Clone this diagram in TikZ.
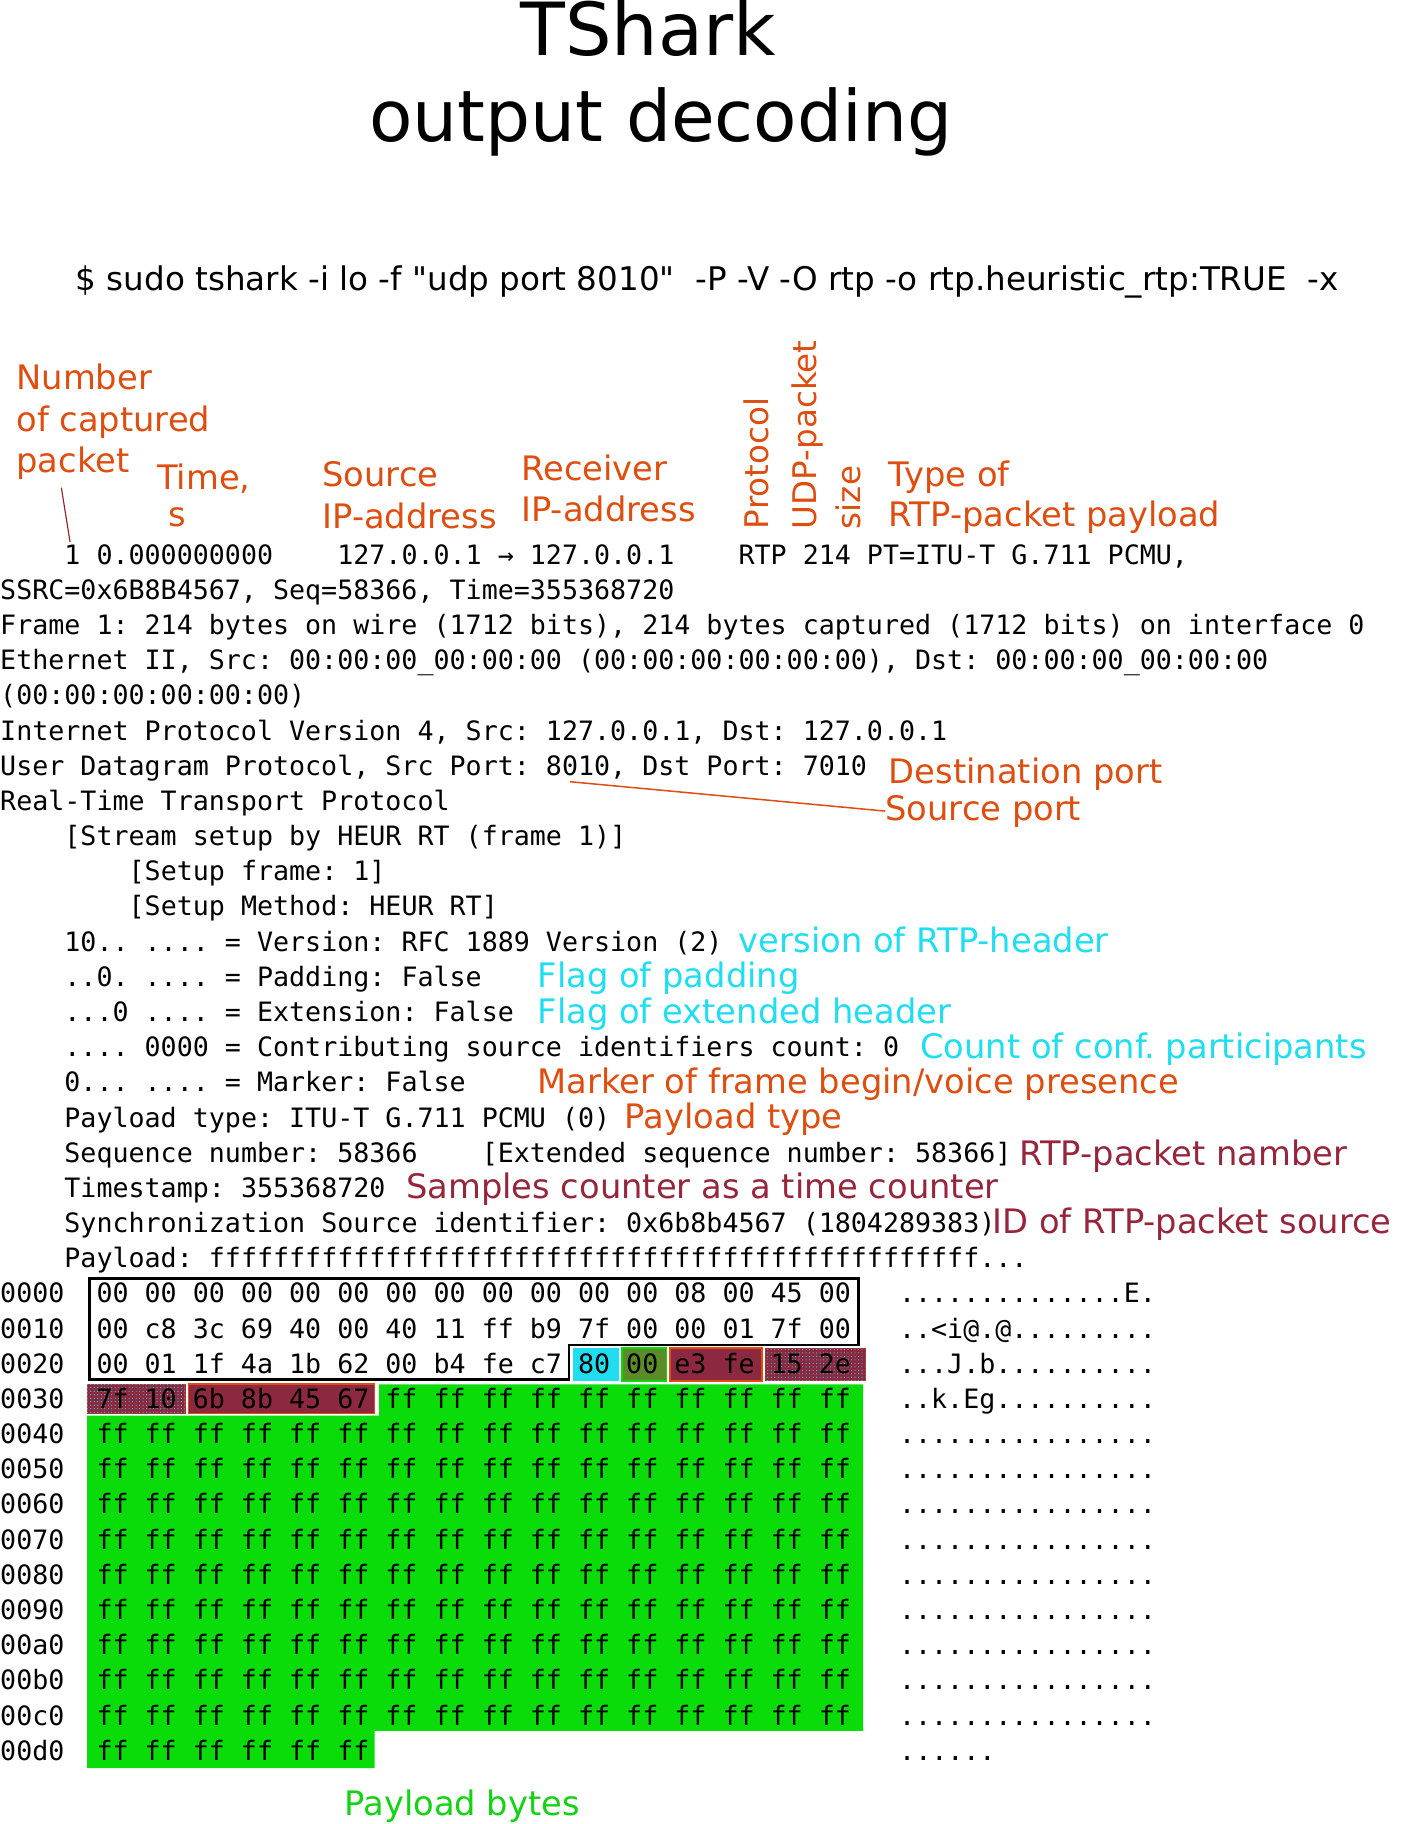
\documentclass[tikz,border=0pt]{standalone}
\usepackage{fontspec}
\setmonofont{DejaVu Sans Mono}
\newfontfamily\sansfam{DejaVu Sans}
\usetikzlibrary{patterns}
\frenchspacing

\definecolor{noteorange}{RGB}{222,78,16}
\definecolor{notecyan}{RGB}{32,222,240}
\definecolor{notemaroon}{RGB}{150,38,60}
\definecolor{notegreen}{RGB}{20,210,20}
\definecolor{bytegreen}{RGB}{10,220,10}
\definecolor{bytemaroon}{RGB}{140,40,64}
\definecolor{byteolive}{RGB}{90,140,40}
\definecolor{tickred}{RGB}{140,40,40}

\newcommand{\titletext}{\sansfam\fontsize{63}{70}\selectfont}
\newcommand{\subtitletext}{\sansfam\fontsize{61}{70}\selectfont}
\newcommand{\cmdtext}{\sansfam\fontsize{28}{34}\selectfont}
\newcommand{\notetext}{\sansfam\fontsize{29}{34}\selectfont}
\newcommand{\sidetext}{\sansfam\fontsize{28}{34}\selectfont}
\newcommand{\dumptext}{\ttfamily\frenchspacing\fontsize{22.92}{27}\selectfont}
\newcommand{\rowy}[1]{485+30.24*#1}

\tikzset{
  title/.style={anchor=base, inner sep=0pt, font=\titletext},
  cmdline/.style={anchor=base west, inner sep=0pt, font=\cmdtext},
  note/.style={anchor=base west, inner sep=0pt, font=\notetext},
  sidenote/.style={anchor=base west, inner sep=0pt, rotate=90, font=\sidetext},
  dump/.style={anchor=base west, inner sep=0pt, font=\dumptext},
  pointer/.style={draw=noteorange, line width=1.3pt},
  tick/.style={draw=tickred, line width=1pt},
  field/.style={fill=bytemaroon, draw=noteorange, line width=1.5pt},
  stamp/.style={fill=bytemaroon, draw=bytemaroon!70!noteorange, line width=1pt,
    postaction={pattern=dots, pattern color=notecyan}}
}

\begin{document}
\begin{tikzpicture}[x=1pt, y=-1pt]
  \useasboundingbox[fill=white] (0,0) rectangle (1204,1568);

  % heading
  \node[title] (ttlone) at (557,48) {TShark};
  \node[title, font=\subtitletext] (ttltwo) at (568,122) {output decoding};
  \node[cmdline] (cmd) at (65,250) {\$ sudo tshark -i lo -f "udp port 8010"~~-P -V -O rtp -o rtp.heuristic\_rtp:TRUE~~-x};

  % column captions
  \node[note, text=noteorange] (num) at (14,335) {Number};
  \node[note, text=noteorange] (numof) at (14,371) {of captured};
  \node[note, text=noteorange] (pkt) at (14,406) {packet};
  \node[note, text=noteorange] (time) at (135,421) {Time,};
  \node[note, text=noteorange] (times) at (145,453) {s};
  \node[note, text=noteorange] (srcip) at (277,418) {Source};
  \node[note, text=noteorange] (srcipb) at (277,454) {IP-address};
  \node[note, text=noteorange] (dstip) at (448,413) {Receiver};
  \node[note, text=noteorange] (dstipb) at (448,448) {IP-address};
  \node[sidenote, text=noteorange] (proto) at (661,455) {Protocol};
  \node[sidenote, text=noteorange] (udpsize) at (702,455) {UDP-packet};
  \node[sidenote, text=noteorange] (udpsizeb) at (740,455) {size};
  \node[note, text=noteorange] (ptype) at (764,418) {Type of};
  \node[note, text=noteorange] (ptypeb) at (764,453) {RTP-packet payload};

  % marked bytes of the hex dump
  \draw[line width=2pt] (77,1099) -- (738,1099) -- (738,1156) -- (489,1156)
    -- (489,1186) -- (77,1186) -- cycle;
  \fill[bytegreen] (326,1190) -- (742,1190) -- (742,1488) -- (322,1488)
    -- (322,1520) -- (75,1520) -- (75,1217) -- (326,1217) -- cycle;
  \fill[notecyan] (493,1159) rectangle (532,1187);
  \filldraw[fill=byteolive, draw=bytegreen, line width=1.5pt] (535,1159) rectangle (573,1187);
  \path[field] (576,1159) rectangle (655,1187);
  \path[stamp] (658,1159) rectangle (744,1187);
  \path[stamp] (75,1190) rectangle (159,1215);
  \path[field] (162,1190) rectangle (322,1215);

  % decoded packet
  \node[dump] (summary) at (55.2,{\rowy{0}}) {1 0.000000000~~~~127.0.0.1 → 127.0.0.1~~~~RTP 214 PT=ITU-T G.711 PCMU,};
  \node[dump] (ssrcline) at (0,{\rowy{1}}) {SSRC=0x6B8B4567, Seq=58366, Time=355368720};
  \node[dump] (frame) at (0,{\rowy{2}}) {Frame 1: 214 bytes on wire (1712 bits), 214 bytes captured (1712 bits) on interface 0};
  \node[dump] (eth) at (0,{\rowy{3}}) {Ethernet II, Src: 00:00:00\_00:00:00 (00:00:00:00:00:00), Dst: 00:00:00\_00:00:00};
  \node[dump] (ethb) at (0,{\rowy{4}}) {(00:00:00:00:00:00)};
  \node[dump] (ip) at (0,{\rowy{5}}) {Internet Protocol Version 4, Src: 127.0.0.1, Dst: 127.0.0.1};
  \node[dump] (udp) at (0,{\rowy{6}}) {User Datagram Protocol, Src Port: 8010, Dst Port: 7010};
  \node[dump] (rtp) at (0,{\rowy{7}}) {Real-Time Transport Protocol};
  \node[dump] (stream) at (55.2,{\rowy{8}}) {[Stream setup by HEUR RT (frame 1)]};
  \node[dump] (setupfr) at (110.4,{\rowy{9}}) {[Setup frame: 1]};
  \node[dump] (setupm) at (110.4,{\rowy{10}}) {[Setup Method: HEUR RT]};
  \node[dump] (ver) at (55.2,{\rowy{11}}) {10.. .... = Version: RFC 1889 Version (2)};
  \node[dump] (padd) at (55.2,{\rowy{12}}) {..0. .... = Padding: False};
  \node[dump] (extn) at (55.2,{\rowy{13}}) {...0 .... = Extension: False};
  \node[dump] (csrc) at (55.2,{\rowy{14}}) {.... 0000 = Contributing source identifiers count: 0};
  \node[dump] (mark) at (55.2,{\rowy{15}}) {0... .... = Marker: False};
  \node[dump] (ptline) at (55.2,{\rowy{16}}) {Payload type: ITU-T G.711 PCMU (0)};
  \node[dump] (seqline) at (55.2,{\rowy{17}}) {Sequence number: 58366~~~~[Extended sequence number: 58366]};
  \node[dump] (tsline) at (55.2,{\rowy{18}}) {Timestamp: 355368720};
  \node[dump] (ssrcid) at (55.2,{\rowy{19}}) {Synchronization Source identifier: 0x6b8b4567 (1804289383)};
  \node[dump] (payload) at (55.2,{\rowy{20}}) {Payload: ffffffffffffffffffffffffffffffffffffffffffffffff...};

  % hex dump
  \node[dump] (hex0000) at (0,{\rowy{21}}) {0000~~00 00 00 00 00 00 00 00 00 00 00 00 08 00 45 00~~~..............E.};
  \node[dump] (hex0010) at (0,{\rowy{22}}) {0010~~00 c8 3c 69 40 00 40 11 ff b9 7f 00 00 01 7f 00~~~..<i@.@.........};
  \node[dump] (hex0020) at (0,{\rowy{23}}) {0020~~00 01 1f 4a 1b 62 00 b4 fe c7 80 00 e3 fe 15 2e~~~...J.b..........};
  \node[dump] (hex0030) at (0,{\rowy{24}}) {0030~~7f 10 6b 8b 45 67 ff ff ff ff ff ff ff ff ff ff~~~..k.Eg..........};
  \foreach \off [count=\r from 25] in {0040,0050,0060,0070,0080,0090,00a0,00b0,00c0}
    \node[dump] (hex\off) at (0,{\rowy{\r}}) {\off~~ff ff ff ff ff ff ff ff ff ff ff ff ff ff ff ff~~~................};
  \node[dump] (hex00d0) at (0,{\rowy{34}}) {00d0~~ff ff ff ff ff ff};
  \node[dump] (asc00d0) at (772.8,{\rowy{34}}) {......};

  % field notes
  \node[note, text=noteorange] (dportnote) at (764,673.5) {Destination port};
  \node[note, text=noteorange] (sportnote) at (761,705) {Source port};
  \node[note, text=notecyan] (vernote) at (635,818.5) {version of RTP-header};
  \node[note, text=notecyan] (padnote) at (462,848.5) {Flag of padding};
  \node[note, text=notecyan] (extnote) at (462,880) {Flag of extended header};
  \node[note, text=notecyan] (ccnote) at (791,910) {Count of conf. participants};
  \node[note, text=noteorange] (marknote) at (462,939.7) {Marker of frame begin/voice presence};
  \node[note, text=noteorange] (ptnote) at (537,970) {Payload type};
  \node[note, text=notemaroon] (seqnote) at (876,1002) {RTP-packet namber};
  \node[note, text=notemaroon] (tsnote) at (349,1030.5) {Samples counter as a time counter};
  \node[note, text=notemaroon] (ssrcnote) at (853,1060.6) {ID of RTP-packet source};
  \node[note, text=notegreen] (plnote) at (296,1561) {Payload bytes};

  % pointers
  \draw[tick] ([xshift=-10pt,yshift=-7pt]pkt.south) -- ([xshift=5pt,yshift=2pt]summary.north west);
  \coordinate (srcnum) at (490,672);
  \draw[pointer] (srcnum) -- (sportnote.west);
\end{tikzpicture}
\end{document}
